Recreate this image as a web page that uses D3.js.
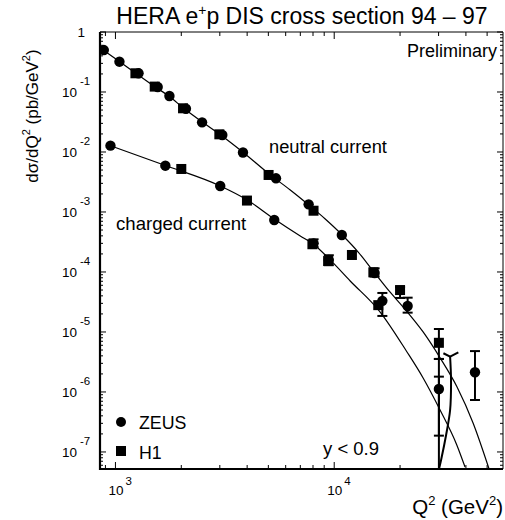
<!DOCTYPE html>
<html>
<head>
<meta charset="utf-8">
<script src="https://cdn.jsdelivr.net/npm/d3@7"></script>
<style>
  body { margin: 0; background: #fff; }
  text { font-family: "Liberation Sans", Arial, Helvetica, sans-serif; fill: #000; }
</style>
</head>
<body>
<svg id="chart"></svg>
<script>
// Theory curves: [Q2, dsigma/dQ2]
const ncCurve = [
  [854, 0.541], [1043, 0.322], [1234, 0.207], [1507, 0.1235], [1765, 0.0841],
  [2044, 0.0541], [2496, 0.0316], [2985, 0.01995], [3842, 0.00981], [5104, 0.00414],
  [6297, 0.00233], [7607, 0.001334], [9099, 7.64e-4], [10878, 4.14e-4], [12872, 2.15e-4],
  [15073, 1.04e-4], [18020, 4.6e-5], [20666, 2.6e-5], [25494, 1.0e-5], [30480, 3.7e-6],
  [36440, 1.21e-6], [43130, 3.04e-7], [51040, 5.2e-8]
];
const ccCurve = [
  [929, 0.01309], [1692, 0.00596], [3016, 0.00271], [4007, 0.00158], [5321, 7.64e-4],
  [6995, 3.98e-4], [8018, 2.93e-4], [9489, 1.65e-4], [11833, 7.08e-5], [16220, 2.15e-5],
  [21478, 4.69e-6], [25494, 1.71e-6], [30480, 5.0e-7], [36340, 1.31e-7], [39640, 5.6e-8]
];

// Measurements: [Q2, value, errLow, errHigh] (null = no visible bar)
const zeusNC = [
  [885, 0.5, null, null], [1043, 0.32, null, null], [1275, 0.205, null, null],
  [1560, 0.121, null, null], [1765, 0.0858, null, null], [2100, 0.0525, null, null],
  [2489, 0.0312, null, null], [3080, 0.0192, null, null], [3828, 0.0098, null, null],
  [5420, 0.00364, null, null], [7640, 0.00134, null, null], [10835, 4.14e-4, null, null],
  [15300, 9.6e-5, 8.4e-5, 1.15e-4], [21660, 2.71e-5, 2.1e-5, 3.73e-5],
  [44000, 2.13e-6, 7.35e-7, 4.8e-6]
];
const h1NC = [
  [1234, 0.205, null, null], [1512, 0.123, null, null], [2037, 0.0535, null, null],
  [2985, 0.0197, null, null], [5013, 0.00414, null, null], [8045, 0.00105, null, null],
  [12050, 1.92e-4, null, null], [15100, 9.87e-5, null, null],
  [20000, 5.0e-5, 3.69e-5, 5.6e-5], [30100, 6.6e-6, 3.55e-6, 1.12e-5]
];
const zeusCC = [
  [949, 0.01275, null, null], [1691, 0.00591, null, null], [3013, 0.00271, null, null],
  [5320, 7.36e-4, null, null], [8050, 3.0e-4, 2.6e-4, 3.5e-4], [9450, 1.58e-4, 1.3e-4, 1.9e-4],
  [16600, 3.3e-5, 1.85e-5, 4.47e-5], [30100, 1.12e-6, 1e-9, 3.55e-6]
];
const h1CC = [
  [2000, 0.00521, null, null], [3992, 0.00155, null, null], [7950, 2.9e-4, null, null],
  [9380, 1.52e-4, null, null], [15900, 2.8e-5, null, null]
];
// bar without a visible marker: [Q2, errLow, errHigh]
const bareBars = [[30100, 1.87e-7, 1.8e-6]];
// bent bar with a forked top at the highest Q2
const forkPath = [
  [33870, 3.87e-6], [34200, 1.58e-6], [33870, 5.0e-7], [32470, 1.92e-7], [30800, 7.35e-8], [30130, 5.2e-8]
];
const forkCap = [[31560, 4.42e-6], [33870, 3.87e-6], [36940, 4.59e-6]];

const yMajor = [1, 1e-1, 1e-2, 1e-3, 1e-4, 1e-5, 1e-6, 1e-7];
const xMajor = [1e3, 1e4];

const width = 505;
const height = 520;
const margin = { top: 32, right: 2, bottom: 51, left: 100 };

const svg = d3.select("#chart").attr("width", width).attr("height", height);

const x = d3.scaleLog().domain([850, 59100]).range([margin.left, width - margin.right]);
const y = d3.scaleLog().domain([5.2e-8, 1]).range([height - margin.bottom, margin.top]);

const x0 = x.range()[0], x1 = x.range()[1];
const y0 = y.range()[0], y1 = y.range()[1];

svg.append("clipPath").attr("id", "plot-clip")
  .append("rect")
  .attr("x", x0).attr("y", y1)
  .attr("width", x1 - x0).attr("height", y0 - y1);

// Minor tick values
const xMinor = [];
[100, 1000, 10000].forEach(d => {
  for (let k = 2; k <= 9; k++) {
    const v = d * k;
    if (v >= 850 && v <= 59100) xMinor.push(v);
  }
});
const yMinor = [];
for (let e = -8; e < 0; e++) {
  for (let k = 2; k <= 9; k++) {
    const v = k * Math.pow(10, e);
    if (v >= 5.2e-8 && v <= 1) yMinor.push(v);
  }
}

const ticks = svg.append("g").attr("stroke", "#000").attr("stroke-width", 1);

// left + right ticks
[[x0, 1], [x1, -1]].forEach(([xx, dir]) => {
  ticks.selectAll(null).data(yMajor).enter().append("line")
    .attr("x1", xx).attr("x2", xx + dir * 6)
    .attr("y1", d => y(d)).attr("y2", d => y(d));
  ticks.selectAll(null).data(yMinor).enter().append("line")
    .attr("x1", xx).attr("x2", xx + dir * 3)
    .attr("y1", d => y(d)).attr("y2", d => y(d));
});
// bottom + top ticks
[[y0, -1], [y1, 1]].forEach(([yy, dir]) => {
  ticks.selectAll(null).data(xMajor).enter().append("line")
    .attr("y1", yy).attr("y2", yy + dir * 7)
    .attr("x1", d => x(d)).attr("x2", d => x(d));
  ticks.selectAll(null).data(xMinor).enter().append("line")
    .attr("y1", yy).attr("y2", yy + dir * 4)
    .attr("x1", d => x(d)).attr("x2", d => x(d));
});

// frame: heavy left and bottom
svg.append("line").attr("x1", x0).attr("x2", x1).attr("y1", y1).attr("y2", y1)
  .attr("stroke", "#000").attr("stroke-width", 1);
svg.append("line").attr("x1", x1).attr("x2", x1).attr("y1", y1).attr("y2", y0)
  .attr("stroke", "#000").attr("stroke-width", 1);
svg.append("line").attr("x1", x0).attr("x2", x0).attr("y1", y1).attr("y2", y0 + 1)
  .attr("stroke", "#000").attr("stroke-width", 2.2);
svg.append("line").attr("x1", x0 - 1).attr("x2", x1).attr("y1", y0).attr("y2", y0)
  .attr("stroke", "#000").attr("stroke-width", 2.2);

// Tick labels
const yLabels = svg.append("g").attr("font-size", 13.5);
yMajor.forEach(d => {
  const exp = Math.round(Math.log10(d));
  if (exp === 0) {
    yLabels.append("text").attr("x", 85).attr("y", y(d) + 5)
      .attr("text-anchor", "end").text("1");
    return;
  }
  const t = yLabels.append("text").attr("x", 62).attr("y", y(d) + 5);
  t.append("tspan").text("10");
  t.append("tspan").attr("dx", 3).attr("dy", -12).attr("font-size", 11.5).text(String(exp));
});
const xLabels = svg.append("g").attr("font-size", 13.5);
xMajor.forEach(d => {
  const exp = Math.round(Math.log10(d));
  const t = xLabels.append("text").attr("x", x(d) - 7).attr("y", 495);
  t.append("tspan").text("10");
  t.append("tspan").attr("dx", 2).attr("dy", -10).attr("font-size", 11.5).text(String(exp));
});

// Axis titles
const xt = svg.append("text").attr("x", 503).attr("y", 514)
  .attr("text-anchor", "end").attr("font-size", 20.5);
xt.append("tspan").text("Q");
xt.append("tspan").attr("dy", -9).attr("font-size", 13).text("2");
xt.append("tspan").attr("dy", 9).text(" (GeV");
xt.append("tspan").attr("dy", -9).attr("font-size", 13).text("2");
xt.append("tspan").attr("dy", 9).text(")");

const yt = svg.append("text")
  .attr("transform", "translate(38,116) rotate(-90)")
  .attr("text-anchor", "middle").attr("font-size", 17);
yt.append("tspan").text("d\u03c3/dQ");
yt.append("tspan").attr("dy", -8).attr("font-size", 11).text("2");
yt.append("tspan").attr("dy", 8).text(" (pb/GeV");
yt.append("tspan").attr("dy", -8).attr("font-size", 11).text("2");
yt.append("tspan").attr("dy", 8).text(")");

// Title
const title = svg.append("text").attr("x", 302).attr("y", 24)
  .attr("text-anchor", "middle").attr("font-size", 23);
title.append("tspan").text("HERA e");
title.append("tspan").attr("dy", -9).attr("font-size", 14).text("+");
title.append("tspan").attr("dy", 9).text("p DIS cross section 94 \u2013 97");

// Annotations
svg.append("text").attr("x", 497).attr("y", 57).attr("text-anchor", "end")
  .attr("font-size", 18).text("Preliminary");
svg.append("text").attr("x", 269).attr("y", 153).attr("font-size", 18.3).text("neutral current");
svg.append("text").attr("x", 116).attr("y", 230).attr("font-size", 18.6).text("charged current");
svg.append("text").attr("x", 323).attr("y", 455).attr("font-size", 18.5).text("y < 0.9");

// Legend
svg.append("circle").attr("cx", 121).attr("cy", 422).attr("r", 5);
svg.append("text").attr("x", 139).attr("y", 429).attr("font-size", 17.8).text("ZEUS");
svg.append("rect").attr("x", 116).attr("y", 446).attr("width", 10).attr("height", 10);
svg.append("text").attr("x", 139).attr("y", 459).attr("font-size", 17.8).text("H1");

// Plot content
const plot = svg.append("g").attr("clip-path", "url(#plot-clip)");

const line = d3.line()
  .x(d => x(d[0]))
  .y(d => y(d[1]))
  .curve(d3.curveMonotoneX);

plot.append("path").datum(ncCurve).attr("d", line)
  .attr("fill", "none").attr("stroke", "#000").attr("stroke-width", 1.2);
plot.append("path").datum(ccCurve).attr("d", line)
  .attr("fill", "none").attr("stroke", "#000").attr("stroke-width", 1.2);

// forked bar
const straight = d3.line().x(d => x(d[0])).y(d => y(d[1]));
plot.append("path").datum(forkPath).attr("d", line.curve(d3.curveCatmullRom))
  .attr("fill", "none").attr("stroke", "#000").attr("stroke-width", 2);
plot.append("path").datum(forkCap).attr("d", straight)
  .attr("fill", "none").attr("stroke", "#000").attr("stroke-width", 2);

// error bars
const capW = 5;
function errorBars(data) {
  const withErr = data.filter(d => d[2] !== null);
  const g = plot.append("g").attr("stroke", "#000").attr("stroke-width", 2);
  g.selectAll(null).data(withErr).enter().append("line")
    .attr("x1", d => x(d[0])).attr("x2", d => x(d[0]))
    .attr("y1", d => y(d[2])).attr("y2", d => y(d[3]));
  [2, 3].forEach(k => {
    g.selectAll(null).data(withErr).enter().append("line")
      .attr("x1", d => x(d[0]) - capW).attr("x2", d => x(d[0]) + capW)
      .attr("y1", d => y(d[k])).attr("y2", d => y(d[k]));
  });
}
errorBars(h1NC);
errorBars(h1CC);
errorBars(zeusNC);
errorBars(zeusCC);
errorBars(bareBars.map(d => [d[0], null, d[1], d[2]]));

// markers
const sq = 10;
[h1NC, h1CC].forEach(data => {
  plot.append("g").selectAll("rect").data(data).enter().append("rect")
    .attr("x", d => x(d[0]) - sq / 2).attr("y", d => y(d[1]) - sq / 2)
    .attr("width", sq).attr("height", sq).attr("fill", "#000");
});
[zeusNC, zeusCC].forEach(data => {
  plot.append("g").selectAll("circle").data(data).enter().append("circle")
    .attr("cx", d => x(d[0])).attr("cy", d => y(d[1]))
    .attr("r", 5.2).attr("fill", "#000");
});
</script>
</body>
</html>
